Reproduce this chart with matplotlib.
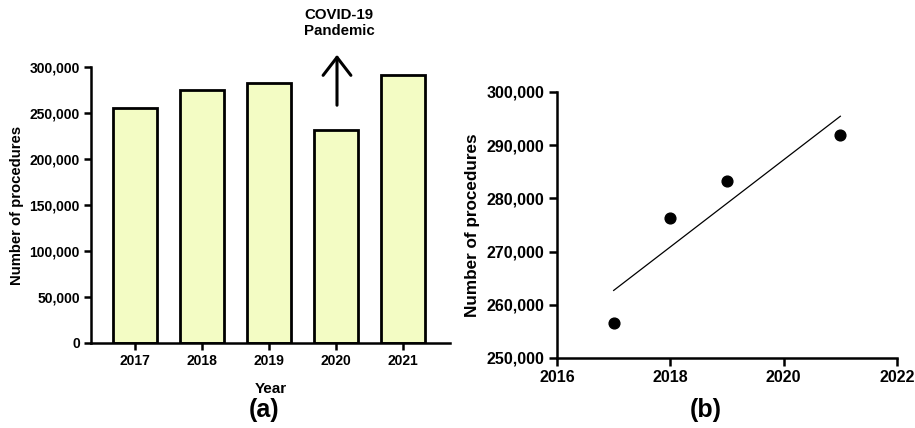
import matplotlib
matplotlib.use("Agg")
import matplotlib.pyplot as plt
import numpy as np
from matplotlib.ticker import FuncFormatter, MultipleLocator

plt.rcParams['font.family'] = ['Liberation Sans', 'DejaVu Sans']

# Panel (a) data
years_a = ["2017", "2018", "2019", "2020", "2021"]
procedures_a = [255900, 275400, 282600, 231300, 291300]

# Panel (b) data
years_b = [2017, 2018, 2019, 2021]
procedures_b = [256500, 276400, 283200, 292000]

bar_color = "#F3FCC4"
fmt = FuncFormatter(lambda v, p: f"{int(v):,}")

fig = plt.figure(figsize=(9.15, 4.28), dpi=100)

# ---- Panel (a)
ax1 = fig.add_axes([91/915, 1-343/428, 359/915, 276/428])
x = np.arange(len(years_a))
ax1.bar(x, procedures_a, width=0.65, color=bar_color, edgecolor="black", linewidth=2)
ax1.set_xlim(-0.66, 4.7)
ax1.set_ylim(0, 300000)
ax1.set_xticks(x)
ax1.set_xticklabels(years_a)
ax1.yaxis.set_major_locator(MultipleLocator(50000))
ax1.yaxis.set_major_formatter(fmt)
for s in ["top", "right"]:
    ax1.spines[s].set_visible(False)
for s in ["left", "bottom"]:
    ax1.spines[s].set_linewidth(1.8)
ax1.tick_params(width=1.8, length=5, labelsize=10, pad=3)
for lab in ax1.get_xticklabels() + ax1.get_yticklabels():
    lab.set_fontweight("bold")
ax1.set_xlabel("Year", fontsize=11, fontweight="bold", labelpad=10)
ax1.set_ylabel("Number of procedures", fontsize=10.7, fontweight="bold", labelpad=4)

# COVID annotation
fig.text(339/915, 1-23/428, "COVID-19\nPandemic", ha="center", va="center",
         fontsize=10.8, fontweight="bold", linespacing=1.15)
fig.add_artist(matplotlib.patches.FancyArrowPatch(
    (337/915, 1-108/428), (337/915, 1-52/428), transform=fig.transFigure,
    arrowstyle="->,head_length=13,head_width=10", linewidth=2.2, color="black",
    mutation_scale=1))

fig.text(264/915, 1-410/428, "(a)", ha="center", va="center", fontsize=18,
         fontweight="bold")

# ---- Panel (b)
ax2 = fig.add_axes([557/915, 1-358/428, 340/915, 266/428])
ax2.scatter(years_b, procedures_b, s=60, color="black", zorder=3)
coef = np.polyfit(years_b, procedures_b, 1)
xl = np.array([min(years_b), max(years_b)])
ax2.plot(xl, np.polyval(coef, xl), color="black", linewidth=0.9)
ax2.set_xlim(2016, 2022)
ax2.set_ylim(250000, 300000)
ax2.xaxis.set_major_locator(MultipleLocator(2))
ax2.yaxis.set_major_locator(MultipleLocator(10000))
ax2.yaxis.set_major_formatter(fmt)
for s in ["top", "right"]:
    ax2.spines[s].set_visible(False)
for s in ["left", "bottom"]:
    ax2.spines[s].set_linewidth(1.8)
ax2.tick_params(width=1.8, length=6, labelsize=11.5, pad=3)
for lab in ax2.get_xticklabels() + ax2.get_yticklabels():
    lab.set_fontweight("bold")
ax2.set_ylabel("Number of procedures", fontsize=12.3, fontweight="bold", labelpad=5)

fig.text(706/915, 1-410/428, "(b)", ha="center", va="center", fontsize=18,
         fontweight="bold")

fig.savefig("out.png", dpi=100)
